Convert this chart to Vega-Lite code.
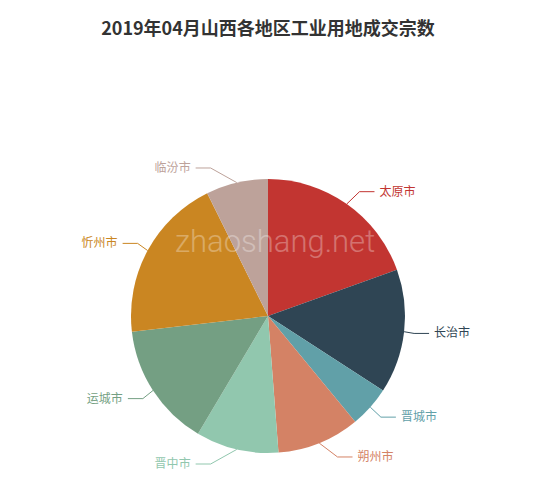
{
  "$schema": "https://vega.github.io/schema/vega-lite/v6.json",
  "width": 536,
  "height": 348,
  "autosize": {"type": "none"},
  "padding": {"left": 0, "top": 142, "right": 14, "bottom": 0},
  "background": "white",
  "title": {
    "text": "2019年04月山西各地区工业用地成交宗数",
    "font": "Noto Sans CJK SC",
    "fontSize": 18,
    "fontWeight": "bold",
    "color": "#333333",
    "anchor": "middle",
    "frame": "group",
    "offset": 103
  },
  "config": {"view": {"stroke": null}},
  "data": {
    "values": [
      {"idx": 1, "city": "太原市", "count": 8},
      {"idx": 2, "city": "长治市", "count": 6},
      {"idx": 3, "city": "晋城市", "count": 2},
      {"idx": 4, "city": "朔州市", "count": 4},
      {"idx": 5, "city": "晋中市", "count": 4},
      {"idx": 6, "city": "运城市", "count": 6},
      {"idx": 7, "city": "忻州市", "count": 8},
      {"idx": 8, "city": "临汾市", "count": 3}
    ]
  },
  "transform": [
    {"window": [{"op": "sum", "field": "count", "as": "cum"}], "sort": [{"field": "idx"}], "frame": [null, 0]},
    {"joinaggregate": [{"op": "sum", "field": "count", "as": "total"}]},
    {"calculate": "(datum.cum - datum.count / 2) / datum.total * 2 * PI", "as": "mid"},
    {"calculate": "sin(datum.mid) < 0 ? -1 : 1", "as": "side"},
    {"calculate": "137 * sin(datum.mid)", "as": "ex"},
    {"calculate": "137 * cos(datum.mid)", "as": "ey"},
    {"calculate": "152 * cos(datum.mid)", "as": "ly"},
    {"calculate": "datum.side * sqrt(167 * 167 - datum.ly * datum.ly)", "as": "lx"},
    {"calculate": "datum.lx - datum.side * 20", "as": "bx"},
    {"calculate": "datum.lx - datum.side * 5", "as": "hx"}
  ],
  "layer": [
    {
      "mark": {"type": "arc", "outerRadius": 137},
      "encoding": {
        "theta": {"field": "count", "type": "quantitative", "stack": true},
        "order": {"field": "idx", "type": "quantitative"},
        "color": {
          "field": "city",
          "type": "nominal",
          "legend": null,
          "scale": {
            "domain": ["太原市", "长治市", "晋城市", "朔州市", "晋中市", "运城市", "忻州市", "临汾市"],
            "range": ["#c23531", "#2f4554", "#61a0a8", "#d48265", "#91c7ae", "#749f83", "#ca8622", "#bda29a"]
          }
        }
      }
    },
    {
      "transform": [{"filter": "datum.idx == 1"}],
      "mark": {"type": "text", "text": "zhaoshang.net", "font": "Roboto", "fontWeight": 300, "fontSize": 31, "color": "white", "opacity": 0.3, "align": "center", "baseline": "middle"},
      "encoding": {
        "x": {"datum": 7, "type": "quantitative", "scale": {"domain": [-268, 268], "nice": false, "zero": false}, "axis": null},
        "y": {"datum": 73, "type": "quantitative", "scale": {"domain": [-174, 174], "nice": false, "zero": false}, "axis": null}
      }
    },
    {
      "mark": {"type": "rule", "strokeWidth": 1},
      "encoding": {
        "x": {"field": "ex", "type": "quantitative", "scale": {"domain": [-268, 268], "nice": false, "zero": false}, "axis": null},
        "y": {"field": "ey", "type": "quantitative", "scale": {"domain": [-174, 174], "nice": false, "zero": false}, "axis": null},
        "x2": {"field": "bx"},
        "y2": {"field": "ly"},
        "color": {"field": "city", "type": "nominal", "legend": null}
      }
    },
    {
      "mark": {"type": "rule", "strokeWidth": 1},
      "encoding": {
        "x": {"field": "bx", "type": "quantitative", "scale": {"domain": [-268, 268], "nice": false, "zero": false}, "axis": null},
        "y": {"field": "ly", "type": "quantitative", "scale": {"domain": [-174, 174], "nice": false, "zero": false}, "axis": null},
        "x2": {"field": "hx"},
        "y2": {"field": "ly"},
        "color": {"field": "city", "type": "nominal", "legend": null}
      }
    },
    {
      "transform": [{"filter": "datum.side > 0"}],
      "mark": {"type": "text", "align": "left", "baseline": "middle", "font": "Noto Sans CJK SC", "fontSize": 12},
      "encoding": {
        "x": {"field": "lx", "type": "quantitative", "scale": {"domain": [-268, 268], "nice": false, "zero": false}, "axis": null},
        "y": {"field": "ly", "type": "quantitative", "scale": {"domain": [-174, 174], "nice": false, "zero": false}, "axis": null},
        "text": {"field": "city"},
        "color": {"field": "city", "type": "nominal", "legend": null}
      }
    },
    {
      "transform": [{"filter": "datum.side < 0"}],
      "mark": {"type": "text", "align": "right", "baseline": "middle", "font": "Noto Sans CJK SC", "fontSize": 12},
      "encoding": {
        "x": {"field": "lx", "type": "quantitative", "scale": {"domain": [-268, 268], "nice": false, "zero": false}, "axis": null},
        "y": {"field": "ly", "type": "quantitative", "scale": {"domain": [-174, 174], "nice": false, "zero": false}, "axis": null},
        "text": {"field": "city"},
        "color": {"field": "city", "type": "nominal", "legend": null}
      }
    }
  ]
}
